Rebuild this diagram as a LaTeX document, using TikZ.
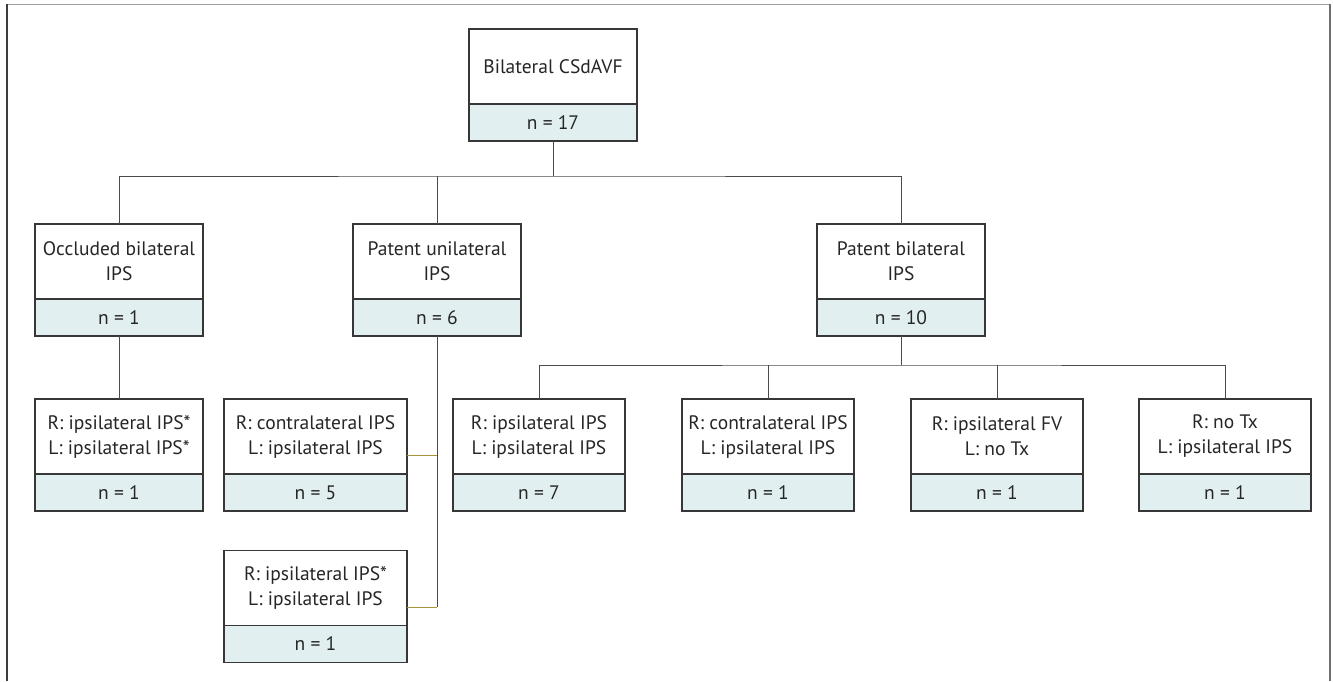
\documentclass[tikz,border=0pt]{standalone}
\usepackage{fontspec}
\setmainfont{PT Sans}
\usepackage{tikz}
\usetikzlibrary{positioning}
\definecolor{boxline}{RGB}{55,55,55}
\definecolor{countfill}{RGB}{225,239,240}
\definecolor{linkgray}{RGB}{75,75,75}
\definecolor{linkolive}{RGB}{165,150,60}
\definecolor{framelight}{RGB}{160,160,160}
\definecolor{framedark}{RGB}{60,60,60}
\definecolor{framemid}{RGB}{110,110,110}

\begin{document}
\begin{tikzpicture}[
  x=1pt,y=-1pt,
  every node/.style={font=\fontsize{19.5}{25}\selectfont,text=black!85},
  box/.style={draw=boxline,line width=1.3pt,outer sep=0pt,minimum width=168pt,minimum height=75pt,align=center,inner sep=2pt},
  count/.style={box,minimum height=37pt,fill=countfill},
  link/.style={draw=linkgray,line width=1pt},
  sidelink/.style={draw=linkolive,line width=1pt}]

  % Page frame (open at the bottom)
  \useasboundingbox (0,0) rectangle (1333,681);
  \draw[framelight,line width=1.5pt] (6,4.5) -- (1330,4.5);
  \draw[framedark,line width=2pt] (7,4) -- (7,681);
  \draw[framemid,line width=2pt] (1329.5,4) -- (1329.5,681);

  % Root
  \node[box] (root) at (553,66.5) {Bilateral CSdAVF};
  \node[count,below=0pt of root] (rootn) {n = 17};

  % Second level
  \node[box] (occl) at (119,261.5) {Occluded bilateral\\IPS};
  \node[count,below=0pt of occl] (occln) {n = 1};
  \node[box] (uni) at (437,261.5) {Patent unilateral\\IPS};
  \node[count,below=0pt of uni] (unin) {n = 6};
  \node[box] (bil) at (901,261.5) {Patent bilateral\\IPS};
  \node[count,below=0pt of bil] (biln) {n = 10};

  % Third level
  \node[box] (occA) at (119,436.5) {R: ipsilateral IPS*\\L: ipsilateral IPS*};
  \node[count,below=0pt of occA] (occAn) {n = 1};
  \node[box,minimum width=183pt] (uniA) at (315.5,436.5) {R: contralateral IPS\\L: ipsilateral IPS};
  \node[count,minimum width=183pt,below=0pt of uniA] (uniAn) {n = 5};
  \node[box,minimum width=183pt] (uniB) at (315.5,588) {R: ipsilateral IPS*\\L: ipsilateral IPS};
  \node[count,minimum width=183pt,below=0pt of uniB] (uniBn) {n = 1};
  \node[box,minimum width=172pt] (bilA) at (539,436.5) {R: ipsilateral IPS\\L: ipsilateral IPS};
  \node[count,minimum width=172pt,below=0pt of bilA] (bilAn) {n = 7};
  \node[box,minimum width=172pt] (bilB) at (768,436.5) {R: contralateral IPS\\L: ipsilateral IPS};
  \node[count,minimum width=172pt,below=0pt of bilB] (bilBn) {n = 1};
  \node[box,minimum width=172pt] (bilC) at (997,436.5) {R: ipsilateral FV\\L: no Tx};
  \node[count,minimum width=172pt,below=0pt of bilC] (bilCn) {n = 1};
  \node[box,minimum width=172pt] (bilD) at (1225,436.5) {R: no Tx\\L: ipsilateral IPS};
  \node[count,minimum width=172pt,below=0pt of bilD] (bilDn) {n = 1};

  % Connectors from the root
  \coordinate (hubA) at (553,176);
  \draw[link] (rootn.south) -- (hubA);
  \draw[link] (occl.north) |- (hubA) -| (bil.north);
  \draw[link] (uni.north) -- (uni.north |- hubA);

  % Occluded branch
  \draw[link] (occln.south) -- (occA.north);

  % Unilateral branch, side taps
  \coordinate (tapA) at ([yshift=-18.5pt]uniA.east);
  \coordinate (tapB) at ([yshift=-19pt]uniB.east);
  \draw[link] (unin.south) -- (unin.south |- tapB);
  \draw[sidelink] (tapA) -- (tapA -| unin.south);
  \draw[sidelink] (tapB) -- (tapB -| unin.south);

  % Bilateral branch
  \coordinate (hubB) at (901,365);
  \draw[link] (biln.south) -- (hubB);
  \draw[link] (bilA.north) |- (hubB) -| (bilD.north);
  \draw[link] (bilB.north) -- (bilB.north |- hubB);
  \draw[link] (bilC.north) -- (bilC.north |- hubB);
\end{tikzpicture}
\end{document}
